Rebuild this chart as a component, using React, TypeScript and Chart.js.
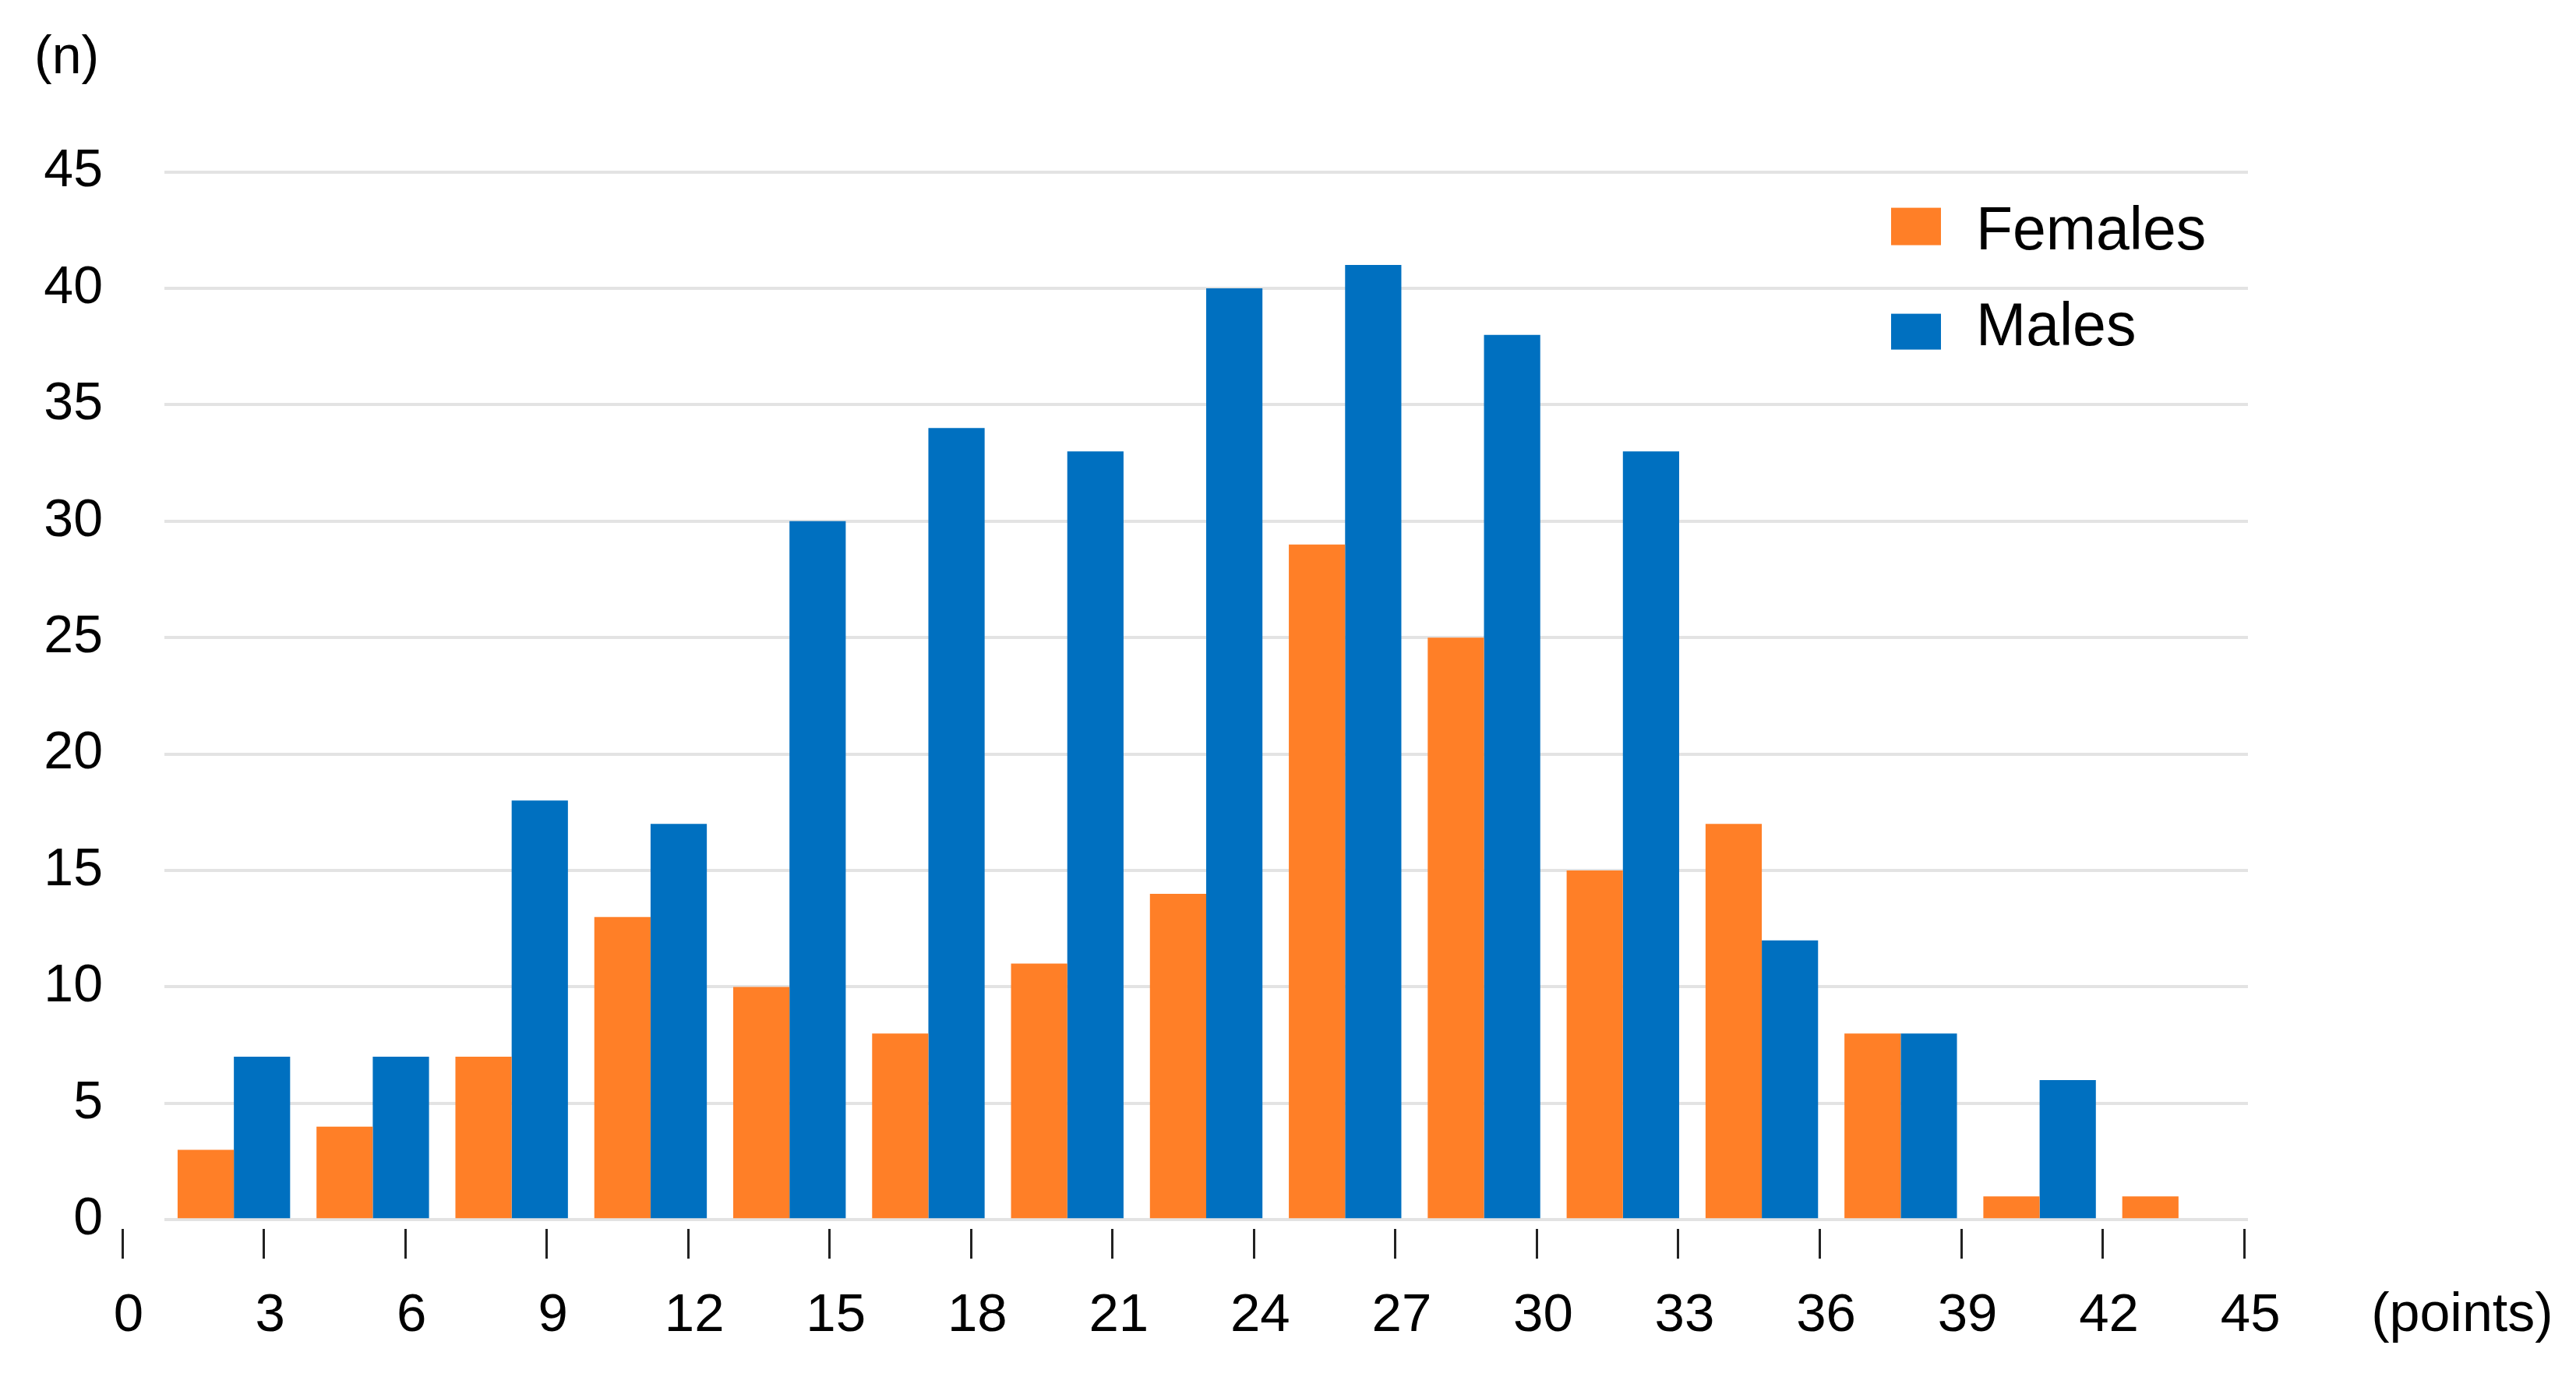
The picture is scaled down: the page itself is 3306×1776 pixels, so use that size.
import React, { useEffect, useRef } from "react";
import { Chart, registerables } from "chart.js";

Chart.register(...registerables);

// ---- data ----
const categories = ["0-3", "3-6", "6-9", "9-12", "12-15", "15-18", "18-21", "21-24", "24-27", "27-30", "30-33", "33-36", "36-39", "39-42", "42-45"];
const females = [3, 4, 7, 13, 10, 8, 11, 14, 29, 25, 15, 17, 8, 1, 1];
const males = [7, 7, 18, 17, 30, 34, 33, 40, 41, 38, 33, 12, 8, 6, 0];
const pointTicks = [0, 3, 6, 9, 12, 15, 18, 21, 24, 27, 30, 33, 36, 39, 42, 45];
const yAxisLabel = "(n)";
const xAxisLabel = "(points)";
const seriesNames = ["Females", "Males"];

const FONT = "'Liberation Sans', Arial, Helvetica, sans-serif";
const ORANGE = "#FF7F27";
const BLUE = "#0070C0";

const extraLabels = {
  id: "extraLabels",
  afterDraw(chart: any) {
    const ctx = chart.ctx;
    const area = chart.chartArea;
    ctx.save();
    // legend
    const ds = chart.data.datasets;
    const sqLeft = area.right - 458;
    const rows = [
      { sqTop: area.top + 46, sqH: 48, base: area.top + 99 },
      { sqTop: area.top + 182, sqH: 46, base: area.top + 222 },
    ];
    ctx.font = `77px ${FONT}`;
    ctx.textAlign = "left";
    ctx.textBaseline = "alphabetic";
    ds.forEach((d: any, i: number) => {
      const r = rows[i];
      ctx.fillStyle = d.backgroundColor;
      ctx.fillRect(sqLeft, r.sqTop, 64, r.sqH);
      ctx.fillStyle = "#000";
      ctx.fillText(d.label, sqLeft + 109, r.base);
    });
    // x unit label
    const s = chart.scales.x2;
    ctx.font = `70px ${FONT}`;
    ctx.textBaseline = "middle";
    ctx.fillText(xAxisLabel, s.getPixelForValue(45) + 163, s.top + 38 + 32 + 41.4);
    ctx.restore();
  },
};

export default function App() {
  const ref = useRef<HTMLCanvasElement | null>(null);
  useEffect(() => {
    if (!ref.current) return;
    const chart = new Chart(ref.current, {
      type: "bar",
      data: {
        labels: categories,
        datasets: [
          { label: seriesNames[0], data: females, backgroundColor: ORANGE, xAxisID: "x", yAxisID: "y" },
          { label: seriesNames[1], data: males, backgroundColor: BLUE, xAxisID: "x", yAxisID: "y" },
        ],
      },
      options: {
        animation: false,
        responsive: true,
        maintainAspectRatio: false,
        layout: { padding: { left: 44, top: 0, right: 421, bottom: 14 } },
        datasets: { bar: { categoryPercentage: 0.81, barPercentage: 1.0 } },
        scales: {
          x: {
            type: "category",
            position: "bottom",
            grid: { display: false },
            border: { display: false },
            ticks: { display: false },
            afterFit: (s: any) => {
              s.height = 12;
              s.paddingLeft = 0;
              s.paddingRight = 0;
            },
          },
          x2: {
            type: "linear",
            position: "bottom",
            offset: false,
            min: 0.892,
            max: 45.08,
            afterBuildTicks: (s: any) => {
              s.ticks = pointTicks.map((v) => ({ value: v }));
            },
            afterFit: (s: any) => {
              s.paddingLeft = 0;
              s.paddingRight = 0;
            },
            grid: { offset: false, drawOnChartArea: false, drawTicks: true, tickLength: 38, color: "#222", lineWidth: 3 },
            border: { display: false },
            ticks: {
              autoSkip: false,
              maxRotation: 0,
              font: { size: 69, family: FONT },
              color: "#000",
              padding: 32,
              labelOffset: 8,
            },
          },
          y: {
            min: 0,
            max: 45,
            ticks: { stepSize: 5, font: { size: 68, family: FONT }, color: "#000", padding: 79 },
            grid: { color: "#e3e3e3", lineWidth: 4, drawTicks: false },
            border: { display: false },
            afterFit: (s: any) => {
              s.width = 167;
            },
          },
        },
        plugins: {
          legend: { display: false },
          tooltip: { enabled: false },
          title: {
            display: true,
            text: yAxisLabel,
            align: "start",
            color: "#000",
            font: { size: 68, family: FONT, weight: "normal" },
            padding: { top: 34, bottom: 105 },
          },
        },
      },
      plugins: [extraLabels],
    } as any);
    return () => chart.destroy();
  }, []);
  return (
    <div style={{ position: "fixed", left: 0, top: 0, width: 3306, height: 1776, background: "#fff" }}>
      <canvas ref={ref} />
    </div>
  );
}
